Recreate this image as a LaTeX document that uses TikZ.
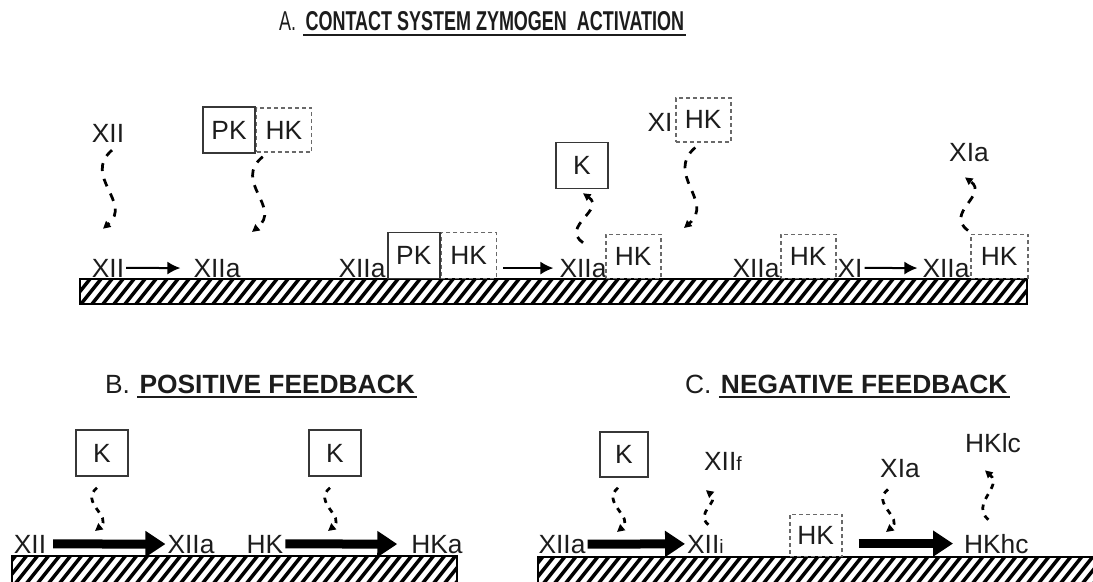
\documentclass[tikz,border=0pt]{standalone}
\usepackage{fontspec}
\setmainfont{Liberation Sans}
\newfontfamily\narrowfont[FakeStretch=0.66]{Liberation Sans}
\usetikzlibrary{positioning,arrows.meta,calc}
\definecolor{InkGray}{RGB}{28,28,28}
\definecolor{BoxGray}{RGB}{55,55,55}
\definecolor{DashGray}{RGB}{105,105,105}

% hatched surface: x1 y1 x2 y2
\newcommand{\hatchbar}[4]{%
  \begin{scope}
    \clip (#1,#2) rectangle (#3,#4);
    \foreach \hx in {-40,-29,...,1100}
      \draw[hatch] (\hx,#4) -- ++(32,-40);
  \end{scope}
  \draw[barframe] (#1,#2) rectangle (#3,#4);}

\begin{document}
\begin{tikzpicture}[x=0.2mm, y=-0.2mm,
  every node/.style={font=\fontsize{15}{18}\selectfont, text=InkGray, inner sep=1pt},
  lbl/.style={anchor=base},
  ttl/.style={anchor=base west, font=\fontsize{15}{18}\selectfont},
  ttlbold/.style={font=\bfseries\fontsize{15}{18}\selectfont},
  solidbox/.style={draw=BoxGray, line width=0.3mm, minimum width=10.4mm,
                   minimum height=9.2mm, inner sep=0pt},
  dashbox/.style={draw=DashGray, line width=0.3mm, dash pattern=on 0.8mm off 0.6mm,
                  minimum width=11mm, minimum height=8.8mm, inner sep=0pt},
  thinarrow/.style={line width=0.4mm, -{Latex[length=2.6mm,width=2.6mm]}},
  fatarrow/.style={line width=1.8mm, -{Triangle[length=4mm,width=5mm]}},
  wavy/.style={line width=0.55mm, dash pattern=on 1.6mm off 1.6mm,
               -{Triangle[length=1.5mm,width=1.5mm]},
               to path={.. controls ($(\tikztostart)!0.33!(\tikztotarget)+(-#1,0)$)
                        and ($(\tikztostart)!0.67!(\tikztotarget)+(#1,0)$) .. (\tikztotarget)}},
  wavy/.default=27,
  shortdash/.style={dash pattern=on 1.1mm off 1.2mm},
  uline/.style={line width=0.4mm, InkGray},
  hatch/.style={line width=0.7mm},
  barframe/.style={draw, line width=0.4mm}]

  \useasboundingbox (0,0) rectangle (1093,581);
  \clip (0,0) rectangle (1093,581);

  % titles
  \node[ttl, font=\narrowfont\fontsize{15.5}{18}\selectfont] (ttlAno) at (277,31) {A.};
  \node[base right=3pt of ttlAno, font=\narrowfont\bfseries\fontsize{15.5}{18}\selectfont]
       (ttlA) {CONTACT SYSTEM ZYMOGEN\ \ ACTIVATION};
  \draw[uline] ([yshift=-2.2pt]ttlA.base west) -- ([yshift=-2.2pt]ttlA.base east);

  \node[ttl] (ttlBno) at (103,393) {B.};
  \node[ttlbold, base right=3pt of ttlBno] (ttlB) {POSITIVE FEEDBACK};
  \draw[uline] ([yshift=-2.5pt]ttlB.base west) -- ([yshift=-2.5pt]ttlB.base east);

  \node[ttl] (ttlCno) at (683,393) {C.};
  \node[ttlbold, base right=3pt of ttlCno] (ttlC) {NEGATIVE FEEDBACK};
  \draw[uline] ([yshift=-2.5pt]ttlC.base west) -- ([yshift=-2.5pt]ttlC.base east);

  % A. contact system
  \hatchbar{80}{279}{1027}{304}

  \node[lbl] (xiiT) at (108,142) {XII};
  \node[solidbox] (pkT) at (229,130) {PK};
  \node[dashbox, right=0pt of pkT] (hkT) {HK};
  \coordinate (pkDrop) at (252,232);

  \node[lbl] (xiiA) at (108,277) {XII};
  \node[lbl] (xiiaA1) at (217,277) {XIIa};
  \draw[thinarrow, shorten >=2.2mm] (xiiA.east) -- (xiiaA1.west);

  \node[lbl] (xiiaA2) at (362,277) {XIIa};
  \node[solidbox, anchor=south west] (pkA) at (387,279) {PK};
  \node[dashbox, right=0pt of pkA, minimum height=9.2mm] (hkA) {HK};
  \node[lbl] (xiiaA3) at (583,277) {XIIa};
  \node[dashbox, anchor=south west] (hkA3) at (605,279) {HK};
  \draw[thinarrow, shorten <=1.2mm, shorten >=0.8mm] (hkA.east |- xiiaA3.west) -- (xiiaA3.west);

  \node[solidbox] (kA) at (582,165.5) {K};

  \node[lbl] (xiT) at (660,132) {XI};
  \node[dashbox, anchor=north west] (hkXI) at (675,97) {HK};
  \coordinate (xiDrop) at (684,228);

  \node[lbl] (xiiaA4) at (756,277) {XIIa};
  \node[dashbox, anchor=south west] (hkA4) at (780,279) {HK};
  \node[lbl] (xiA) at (850,277) {XI};
  \node[lbl] (xiiaA5) at (946,277) {XIIa};
  \node[dashbox, anchor=south west, minimum width=11.4mm] (hkA5) at (970,279) {HK};
  \draw[thinarrow, shorten >=0.6mm] (xiA.east) -- (xiiaA5.west);

  \node[lbl] (xiaT) at (969,161) {XIa};

  \draw[wavy] ([shift={(4,6)}]xiiT.south) to ([shift={(-5,-28)}]xiiA.north);
  \draw[wavy] ([shift={(7,4)}]hkT.south west) to (pkDrop);
  \draw[wavy=23] ([shift={(0,-14)}]xiiaA3.north) to ([shift={(1,4)}]kA.south);
  \draw[wavy] ([shift={(-8,5)}]hkXI.south) to (xiDrop);
  \draw[wavy=23] ([shift={(-2,-3)}]hkA5.north west) to ([shift={(-4,14)}]xiaT.south);

  % B. positive feedback
  \hatchbar{12}{556}{457}{584}

  \node[lbl] (xiiB) at (30,553) {XII};
  \node[lbl] (xiiaB) at (191,553) {XIIa};
  \node[lbl] (hkB) at (265,553) {HK};
  \node[lbl] (hkaB) at (437,553) {HKa};
  \draw[fatarrow, shorten <=1mm] (xiiB.east) -- (xiiaB.west);
  \draw[fatarrow, shorten >=2.4mm] (hkB.east) -- (hkaB.west);

  \node[solidbox] (kB1) at (102,453) {K};
  \node[solidbox] (kB2) at (335,453) {K};
  \coordinate (kDrop1) at (95,531);
  \coordinate (kDrop2) at (328,531);
  \draw[wavy=17, shortdash] ([shift={(-5,11)}]kB1.south) to (kDrop1);
  \draw[wavy=17, shortdash] ([shift={(-5,11)}]kB2.south) to (kDrop2);

  % C. negative feedback
  \hatchbar{538}{557}{1100}{584}

  \node[lbl] (xiiaC) at (562,553) {XIIa};
  \node[lbl, anchor=base west] (xiiiC) at (685,553) {XII{\fontsize{11}{13}\selectfont i}};
  \draw[fatarrow] (xiiaC.east) -- (xiiiC.west);

  \node[solidbox, minimum width=9.6mm, minimum height=9mm] (kC) at (624,454.5) {K};
  \coordinate (kDrop3) at (617,532);
  \draw[wavy=17, shortdash] ([shift={(-6,10)}]kC.south) to (kDrop3);

  \node[lbl, anchor=base west] (xiifC) at (702,470) {XII{\fontsize{11}{13}\selectfont f}};
  \draw[wavy=13, shortdash] ([shift={(3,-8)}]xiiiC.north) to ([shift={(-17,18)}]xiifC.south);

  \node[dashbox, anchor=south west, minimum width=10.4mm, minimum height=8.4mm] (hkC) at (789,557) {HK};
  \node[lbl, anchor=base west] (hkhcC) at (962,553) {HKhc};
  \draw[fatarrow, shorten <=3.2mm, shorten >=1.8mm] (hkC.east |- hkhcC.west) -- (hkhcC.west);

  \node[lbl] (xiaC) at (900,477) {XIa};
  \coordinate (kDrop4) at (886,532);
  \draw[wavy=17, shortdash] ([shift={(-12,10)}]xiaC.south) to (kDrop4);

  \node[lbl] (hklcC) at (993,452) {HKlc};
  \draw[wavy=17, shortdash] ([shift={(-8,-12)}]hkhcC.north) to ([shift={(-8,16)}]hklcC.south);
\end{tikzpicture}
\end{document}
